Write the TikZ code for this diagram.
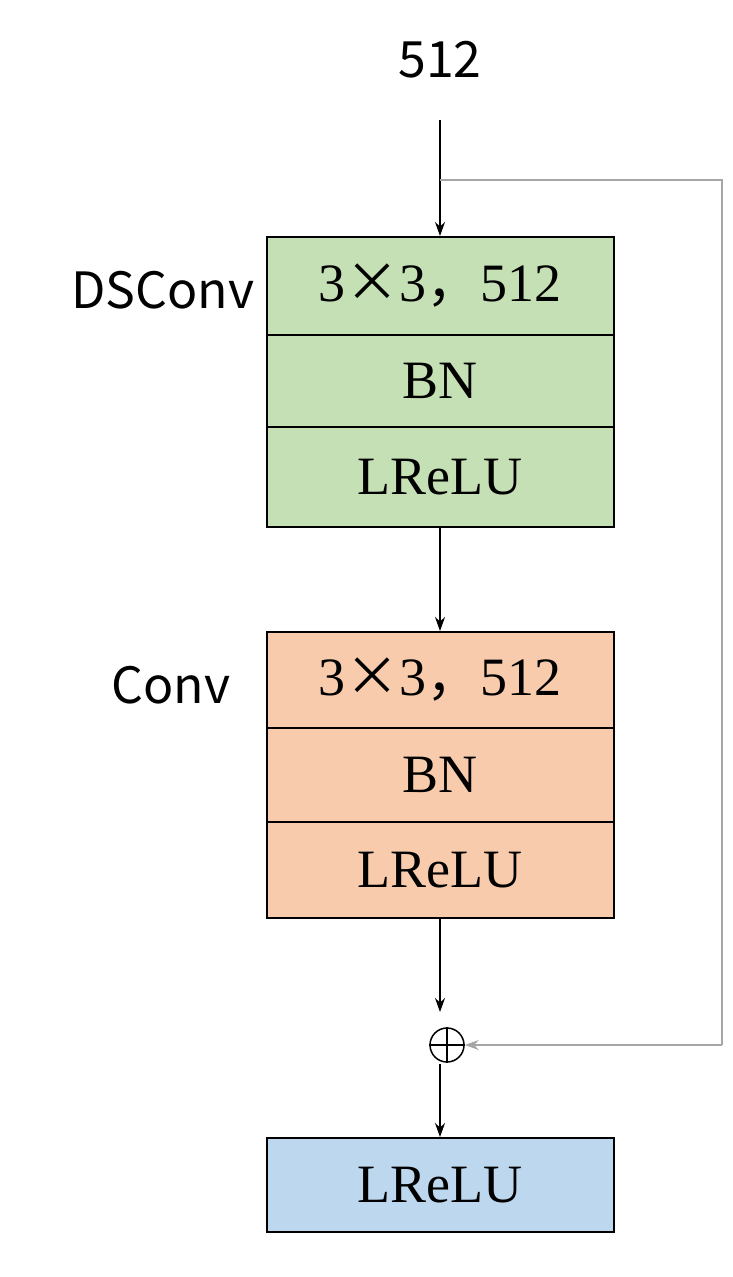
\documentclass[tikz,border=0pt]{standalone}
\usepackage{fontspec}
\setmainfont{Liberation Serif}
\newfontfamily\lbl{Noto Sans CJK SC}
\usetikzlibrary{arrows.meta}
\definecolor{gr}{HTML}{C5E0B4}
\definecolor{og}{HTML}{F8CBAD}
\definecolor{bl}{HTML}{BDD7EE}
\begin{document}
\begin{tikzpicture}[x=1pt,y=-1pt,
  cell/.style={draw=black,line width=2pt,minimum width=347pt,inner sep=0pt,font=\fontsize{54}{60}\selectfont},
  lab/.style={font=\lbl\fontsize{50}{56}\selectfont},
  arr/.style={-{Stealth[length=14pt,width=10pt]},line width=1.2pt},
  skip/.style={line width=1.5pt,draw=gray!70}]
\useasboundingbox (0,0) rectangle (732,1277);
\node[lab] (in) at (440,60) {512};
\node[cell,fill=gr,minimum height=98pt] (g1) at (440,286) {3{\lbl ×}3{\lbl ，}512};
\node[cell,fill=gr,minimum height=92pt] (g2) at (440,381) {BN};
\node[cell,fill=gr,minimum height=100pt] (g3) at (440,477) {LReLU};
\node[cell,fill=og,minimum height=96pt] (o1) at (440,680) {3{\lbl ×}3{\lbl ，}512};
\node[cell,fill=og,minimum height=94pt] (o2) at (440,775) {BN};
\node[cell,fill=og,minimum height=96pt] (o3) at (440,870) {LReLU};
\node[cell,fill=bl,minimum height=94pt] (b1) at (440,1185) {LReLU};
\node[lab,anchor=east] (l1) at (258,290) {DSConv};
\node[lab,anchor=east] (l2) at (234,685) {Conv};
\node[circle,draw,line width=1.5pt,minimum size=34pt,inner sep=0pt] (p) at (447,1045) {};
\draw[line width=1.5pt] (p.north) -- (p.south) (p.west) -- (p.east);
\coordinate (s0) at (440,180);
\coordinate (s1) at (722,180);
\coordinate (s2) at (722,1045);
\coordinate (t0) at (440,120);
\coordinate (t1) at (440,1012);
\coordinate (t2) at (440,1064);
\draw[arr] (t0) -- (g1.north);
\draw[skip] (s0) -- (s1) -- (s2);
\draw[arr,gray!70,line width=1.5pt] (s2) -- (p.east);
\draw[arr] (g3.south) -- (o1.north);
\draw[arr] (o3.south) -- (t1);
\draw[arr] (t2) -- (b1.north);
\end{tikzpicture}
\end{document}
